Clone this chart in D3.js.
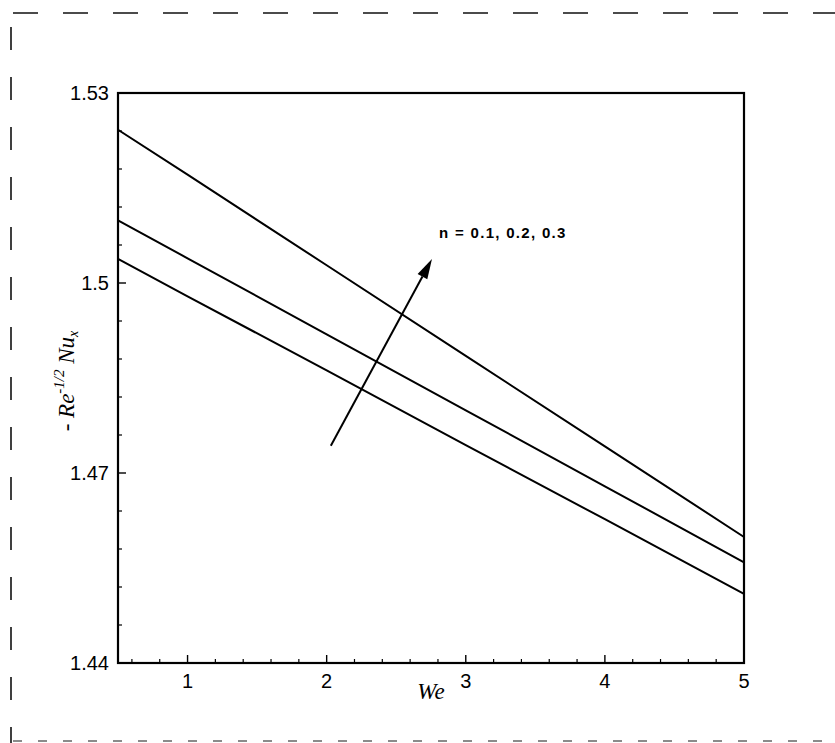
<!DOCTYPE html>
<html lang="en">
<head>
  <meta charset="UTF-8">
  <script src="https://d3js.org/d3.v7.min.js"></script>
  <style>
    body { margin: 0; background: #fff; }
    svg { display: block; }
    .tick-label { font-family: Arial, "Liberation Sans", sans-serif; font-size: 20px; fill: #000; }
  </style>
</head>
<body>
<div id="chart"></div>
<script>
// values
const we = [0.5, 1, 2, 3, 4, 5];
const nu_n01 = [1.5038, 1.4979, 1.4862, 1.4744, 1.4627, 1.4509];
const nu_n02 = [1.5099, 1.5039, 1.4919, 1.4799, 1.4679, 1.4559];
const nu_n03 = [1.5242, 1.5171, 1.5028, 1.4885, 1.4742, 1.4599];
const series = [nu_n01, nu_n02, nu_n03];
const xTicks = [1, 2, 3, 4, 5];
const yTicks = [1.44, 1.47, 1.5, 1.53];
const arrowFrom = [2.03, 1.4743];
const arrowTo = [2.757, 1.5038];
const label = 'n = 0.1, 0.2, 0.3';

const W = 835, H = 743;
const m = { left: 118, top: 93, right: 91, bottom: 80 };
const iw = W - m.left - m.right, ih = H - m.top - m.bottom;

const svg = d3.select('#chart').append('svg')
  .attr('width', W).attr('height', H);

// dashed page border
const page = svg.append('g').attr('fill', 'none');
page.append('line').attr('x1', 13).attr('x2', W).attr('y1', 13).attr('y2', 13)
  .attr('stroke', '#111').attr('stroke-width', 1.6).attr('stroke-dasharray', '25 25');
page.append('line').attr('x1', 11).attr('x2', 11).attr('y1', 27).attr('y2', H)
  .attr('stroke', '#111').attr('stroke-width', 1.6).attr('stroke-dasharray', '23 27');
page.append('line').attr('x1', 13).attr('x2', W).attr('y1', 741).attr('y2', 741)
  .attr('stroke', '#666').attr('stroke-width', 1.5).attr('stroke-dasharray', '9 16');

const g = svg.append('g').attr('transform', `translate(${m.left},${m.top})`);

const x = d3.scaleLinear().domain([0.5, 5]).range([0, iw]);
const y = d3.scaleLinear().domain([1.44, 1.53]).range([ih, 0]);

// minor ticks
const xMinor = d3.range(0.6, 5, 0.2).filter(v => Math.abs(v - Math.round(v)) > 1e-6);
const yMinor = d3.range(1.446, 1.53, 0.006).filter(v => !yTicks.some(t => Math.abs(t - v) < 1e-6));

g.selectAll('.xminor').data(xMinor).enter().append('line')
  .attr('x1', d => x(d)).attr('x2', d => x(d))
  .attr('y1', ih).attr('y2', ih - 4)
  .attr('stroke', '#000').attr('stroke-width', 1.2);
g.selectAll('.yminor').data(yMinor).enter().append('line')
  .attr('x1', 0).attr('x2', 4)
  .attr('y1', d => y(d)).attr('y2', d => y(d))
  .attr('stroke', '#000').attr('stroke-width', 1.2);

// major ticks
g.selectAll('.xmajor').data(xTicks).enter().append('line')
  .attr('x1', d => x(d)).attr('x2', d => x(d))
  .attr('y1', ih).attr('y2', ih - 8)
  .attr('stroke', '#000').attr('stroke-width', 1.4);
g.selectAll('.ymajor').data(yTicks).enter().append('line')
  .attr('x1', 0).attr('x2', 8)
  .attr('y1', d => y(d)).attr('y2', d => y(d))
  .attr('stroke', '#000').attr('stroke-width', 1.4);

// tick labels
g.selectAll('.xl').data(xTicks).enter().append('text')
  .attr('class', 'tick-label')
  .attr('x', d => x(d)).attr('y', ih + 25)
  .attr('text-anchor', 'middle')
  .text(d => d);
g.selectAll('.yl').data(yTicks).enter().append('text')
  .attr('class', 'tick-label')
  .attr('x', -9).attr('y', d => y(d) + 7)
  .attr('text-anchor', 'end')
  .text(d => d3.format('~g')(d));

// curves
const line = d3.line().x((d, i) => x(we[i])).y(d => y(d));
g.selectAll('.curve').data(series).enter().append('path')
  .attr('d', line)
  .attr('fill', 'none').attr('stroke', '#000').attr('stroke-width', 2);

// frame
g.append('rect').attr('width', iw).attr('height', ih)
  .attr('fill', 'none').attr('stroke', '#000').attr('stroke-width', 2.2);

// arrow
const ax0 = x(arrowFrom[0]), ay0 = y(arrowFrom[1]);
const ax1 = x(arrowTo[0]), ay1 = y(arrowTo[1]);
const ang = Math.atan2(ay1 - ay0, ax1 - ax0);
const hl = 20, hw = 5.5;
const bx = ax1 - hl * Math.cos(ang), by = ay1 - hl * Math.sin(ang);
g.append('line').attr('x1', ax0).attr('y1', ay0).attr('x2', bx).attr('y2', by)
  .attr('stroke', '#000').attr('stroke-width', 2);
g.append('path')
  .attr('d', `M${ax1},${ay1}L${bx + hw * Math.sin(ang)},${by - hw * Math.cos(ang)}L${bx - hw * Math.sin(ang)},${by + hw * Math.cos(ang)}Z`)
  .attr('fill', '#000');

g.append('text')
  .attr('x', x(2.808)).attr('y', y(1.5071))
  .attr('fill', '#000')
  .attr('font-family', 'Arial, "Liberation Sans", sans-serif')
  .attr('font-size', 15).attr('font-weight', 'bold')
  .attr('letter-spacing', 1.3)
  .text(label);

// axis titles
svg.append('text')
  .attr('x', m.left + iw / 2).attr('y', 699)
  .attr('text-anchor', 'middle')
  .attr('fill', '#000')
  .attr('font-family', '"Liberation Serif", "Times New Roman", serif')
  .attr('font-style', 'italic').attr('font-size', 23)
  .text('We');

const yt = svg.append('text')
  .attr('transform', 'translate(74,381) rotate(-90)')
  .attr('text-anchor', 'middle')
  .attr('fill', '#000')
  .attr('font-family', '"Liberation Serif", "Times New Roman", serif')
  .attr('font-size', 23);
yt.append('tspan').text('- ');
yt.append('tspan').attr('font-style', 'italic').text('Re');
yt.append('tspan').attr('font-style', 'italic').attr('font-size', 15).attr('dy', -10).text('-1/2');
yt.append('tspan').attr('font-style', 'italic').attr('dy', 10).text(' Nu');
yt.append('tspan').attr('font-style', 'italic').attr('font-size', 14).attr('dy', 4).text('x');
</script>
</body>
</html>
